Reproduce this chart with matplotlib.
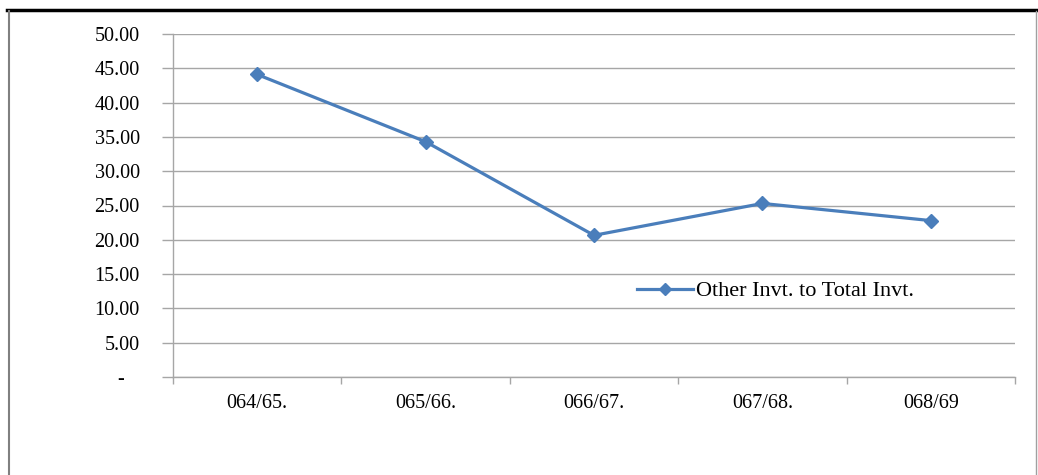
import matplotlib
matplotlib.use("Agg")
import matplotlib.pyplot as plt
from matplotlib.lines import Line2D
import numpy as np

years = ["064/65.", "065/66.", "066/67.", "067/68.", "068/69"]
other_to_total = [44.1, 34.3, 20.65, 25.3, 22.8]
y_ticks = [0, 5, 10, 15, 20, 25, 30, 35, 40, 45, 50]
series_name = "Other Invt. to Total Invt."

plt.rcParams["font.family"] = ["Liberation Serif", "DejaVu Serif"]

BLUE = "#4A7EBB"
GRID = "#A6A6A6"

fig = plt.figure(figsize=(10.38, 4.75), dpi=100)
ax = fig.add_axes([173 / 1038, 1 - 377 / 475, (1015 - 173) / 1038, (377 - 34) / 475])

x = np.arange(len(years))
ax.plot(x, other_to_total, color=BLUE, linewidth=2.3, marker="D",
        markersize=7.5, markerfacecolor=BLUE, markeredgecolor=BLUE,
        label=series_name)

ax.set_xlim(-0.5, len(years) - 0.5)
ax.set_ylim(0, 50)

# accounting style: zero is shown as a dash
ax.set_yticks(y_ticks)
ax.set_yticklabels(["-   " if v == 0 else f"{v:.2f}" for v in y_ticks], fontsize=14.5)
ax.yaxis.grid(True, color=GRID, linewidth=1)
ax.set_axisbelow(True)

ax.set_xticks(x)
ax.set_xticklabels(years, fontsize=14.5)
ax.set_xticks(np.arange(len(years) + 1) - 0.5, minor=True)
ax.tick_params(axis="x", which="major", length=0, pad=12)
ax.tick_params(axis="x", which="minor", length=5, width=1, color=GRID, direction="out")
ax.tick_params(axis="y", length=8, width=1, color=GRID, pad=16)

for side in ["top", "right"]:
    ax.spines[side].set_visible(False)
for side in ["left", "bottom"]:
    ax.spines[side].set_color(GRID)
    ax.spines[side].set_linewidth(1)

ax.legend(loc="center left", bbox_to_anchor=(637 / 1038, 1 - 291 / 475),
          bbox_transform=fig.transFigure, frameon=False, fontsize=16,
          handlelength=2.5, handletextpad=0.15, borderpad=0, borderaxespad=0,
          markerscale=0.85)

# page frame
fig.add_artist(Line2D([7 / 1038, 1], [1 - 10 / 475] * 2, color="black", linewidth=2.5))
fig.add_artist(Line2D([9 / 1038] * 2, [0, 1 - 11 / 475], color="#808080", linewidth=1.5))
fig.add_artist(Line2D([1036 / 1038] * 2, [0, 1 - 11 / 475], color="#A0A0A0", linewidth=1))

fig.savefig("out.png", dpi=100)
